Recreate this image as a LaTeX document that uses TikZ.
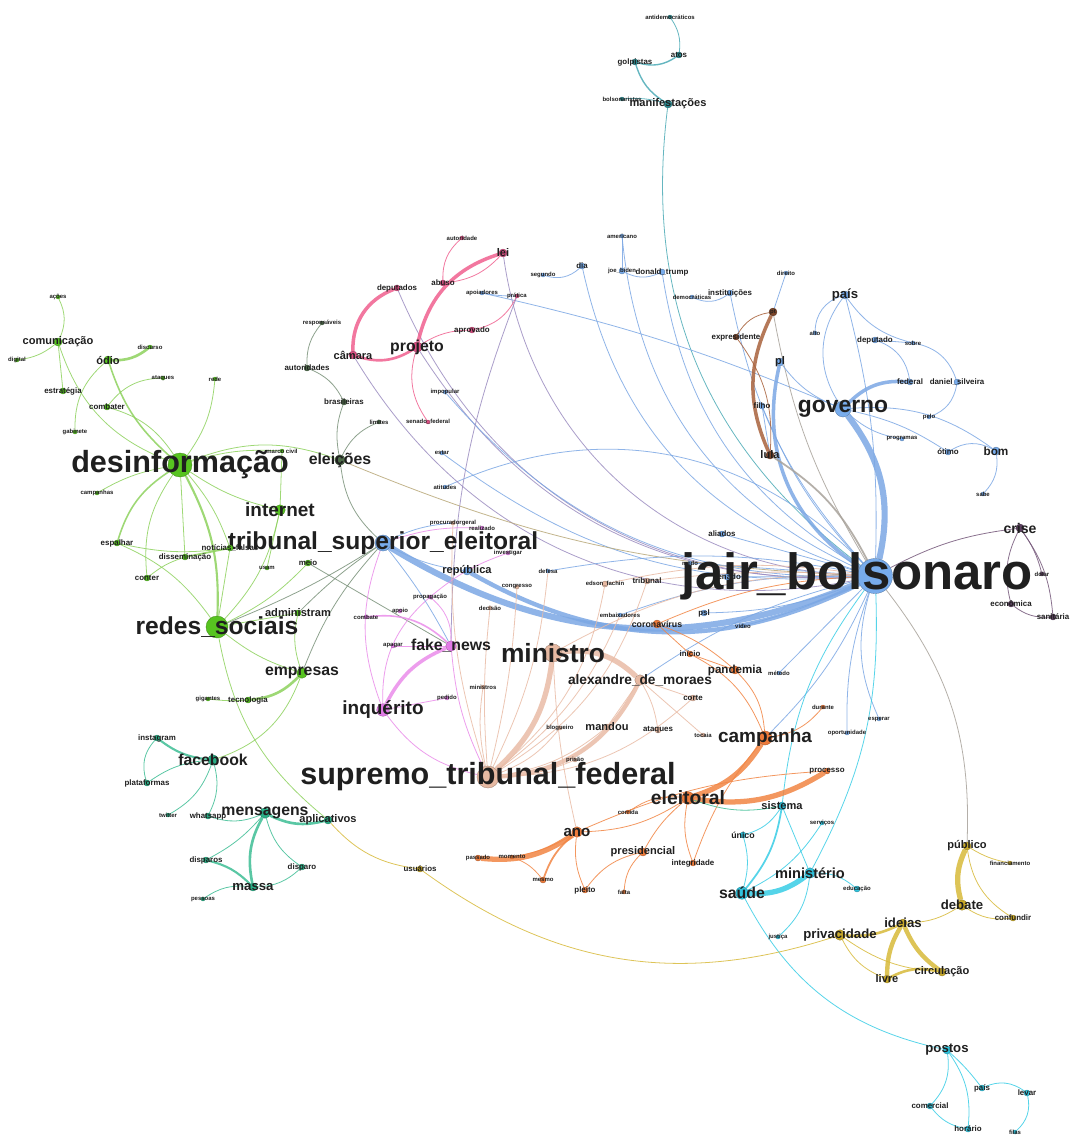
\documentclass[tikz,border=0pt]{standalone}
\usepackage{fontspec}
\setmainfont{Liberation Sans}
\usepackage{tikz}
\pgfdeclarelayer{edges}
\pgfsetlayers{edges,main}

\definecolor{cBlue}{HTML}{78ACEC}
\definecolor{eBlue}{HTML}{7CA8E4}
\definecolor{cGreen}{HTML}{57C320}
\definecolor{eGreen}{HTML}{8ED25E}
\definecolor{cDkg}{HTML}{4D6B49}
\definecolor{eDkg}{HTML}{7A927A}
\definecolor{cPink}{HTML}{D94F82}
\definecolor{ePink}{HTML}{F0608F}
\definecolor{cMag}{HTML}{E27AE6}
\definecolor{eMag}{HTML}{EA8CEA}
\definecolor{cSalm}{HTML}{E6B9A2}
\definecolor{eSalm}{HTML}{E9BCA6}
\definecolor{cOrng}{HTML}{EE7B3A}
\definecolor{eOrng}{HTML}{F28543}
\definecolor{cCyan}{HTML}{2FC3DD}
\definecolor{eCyan}{HTML}{38CDE6}
\definecolor{cGold}{HTML}{C9A928}
\definecolor{eGold}{HTML}{D8BA3A}
\definecolor{cTeal}{HTML}{28AE85}
\definecolor{eTeal}{HTML}{3EBE95}
\definecolor{cBrwn}{HTML}{7B4529}
\definecolor{eBrwn}{HTML}{A9623C}
\definecolor{cPurp}{HTML}{5B405F}
\definecolor{ePurp}{HTML}{75587A}
\definecolor{cTop}{HTML}{2B8C92}
\definecolor{eTop}{HTML}{4BAAB6}
\definecolor{eMix}{HTML}{9B8CC0}
\definecolor{eOlive}{HTML}{B8A878}
\definecolor{eGray}{HTML}{A8A29A}

\begin{document}
\begin{tikzpicture}[
                x=0.02cm, y=-0.02cm,
                nd/.style={circle, inner sep=0pt, fill=#1, draw=#1!70!black, line width=0.2pt},
                n0/.style={minimum size=0.8mm}, n1/.style={minimum size=1.2mm},
                n2/.style={minimum size=1.6mm}, n3/.style={minimum size=2.1mm},
                n4/.style={minimum size=2.5mm}, n5/.style={minimum size=3.2mm},
                n6/.style={minimum size=4.4mm}, n7/.style={minimum size=7mm},
                lab/.style={inner sep=0pt, text=black!88, font=\bfseries\fontsize{#1}{#1}\selectfont},
                t0/.style={lab=3.4}, t1/.style={lab=4.5}, t2/.style={lab=6.3},
                t3/.style={lab=7.5}, t4/.style={lab=9}, t5/.style={lab=10.8},
                t6/.style={lab=14}, t7/.style={lab=17.4}, t8/.style={lab=29},
                lnk/.style={draw=#1, line width=0.45pt, draw opacity=0.85}
            ]
            \useasboundingbox (0,0) rectangle (1073,1136);
            % manifestacoes
            \node[nd=cTop, n0, label={[t0]center:antidemocráticos}] (anti) at (670,17) {};
            \node[nd=cTop, n1, label={[t1]center:atos}] (atos) at (679,55) {};
            \node[nd=cTop, n1, label={[t1]center:golpistas}] (golp) at (635,62) {};
            \node[nd=cTop, n0, label={[t0]center:bolsonaristas}] (bolsta) at (622,99) {};
            \node[nd=cTop, n2, label={[t2]center:manifestações}] (manif) at (668,104) {};
            % bolsonaro
            \node[nd=cBlue, n7, label={[t8, xshift=-3.6mm]center:jair\_bolsonaro}] (jb) at (875,576) {};
            \node[nd=cBlue, n0, label={[t0]center:americano}] (amer) at (622,236) {};
            \node[nd=cBlue, n1, label={[t0]center:joe\_biden}] (biden) at (622,271) {};
            \node[nd=cBlue, n1, label={[t1]center:donald\_trump}] (trump) at (662,272) {};
            \node[nd=cBlue, n1, label={[t1]center:dia}] (dia) at (582,266) {};
            \node[nd=cBlue, n0, label={[t0]center:segundo}] (seg) at (543,275) {};
            \node[nd=cBlue, n0, label={[t0]center:apoiadores}] (apoi) at (482,293) {};
            \node[nd=cBlue, n0, label={[t0]center:democráticas}] (demo) at (692,297) {};
            \node[nd=cBlue, n1, label={[t1]center:instituições}] (inst) at (730,293) {};
            \node[nd=cBlue, n0, label={[t0]center:direito}] (dir) at (786,273) {};
            \node[nd=cBlue, n2, label={[t2]center:pl}] (pl) at (780,362) {};
            \node[nd=cBlue, n1, label={[t1]center:filho}] (filho) at (762,406) {};
            \node[nd=cBlue, n5, label={[lab=13]center:governo}] (gov) at (843,409) {};
            \node[nd=cBlue, n2, label={[t3]center:país}] (pais) at (845,295) {};
            \node[nd=cBlue, n0, label={[t0]center:alto}] (alto) at (815,333) {};
            \node[nd=cBlue, n1, label={[t1]center:deputado}] (dep) at (875,340) {};
            \node[nd=cBlue, n0, label={[t0]center:sobre}] (sobre) at (913,343) {};
            \node[nd=cBlue, n1, label={[t1]center:federal}] (fed) at (910,382) {};
            \node[nd=cBlue, n1, label={[t1]center:daniel\_silveira}] (dan) at (957,382) {};
            \node[nd=cBlue, n0, label={[t0]center:pelo}] (pelo) at (929,417) {};
            \node[nd=cBlue, n0, label={[t0]center:programas}] (prog) at (902,439) {};
            \node[nd=cBlue, n1, label={[t1]center:ótimo}] (otimo) at (948,452) {};
            \node[nd=cBlue, n2, label={[lab=6.7]center:bom}] (bom) at (996,451) {};
            \node[nd=cBlue, n0, label={[t0]center:sabe}] (sabe) at (983,494) {};
            \node[nd=cBlue, n0, label={[t0]center:impopular}] (impop) at (445,392) {};
            \node[nd=cBlue, n0, label={[t0]center:estar}] (estar) at (442,453) {};
            \node[nd=cBlue, n0, label={[t0]center:atitudes}] (atit) at (445,487) {};
            \node[nd=cBlue, n5, label={[t6]center:tribunal\_superior\_eleitoral}] (tse) at (383,543) {};
            \node[nd=cBlue, n2, label={[t2]center:república}] (rep) at (467,571) {};
            \node[nd=cBlue, n0, label={[t0]center:defesa}] (defesa) at (548,571) {};
            \node[nd=cBlue, n1, label={[t1]center:aliados}] (aliad) at (722,534) {};
            \node[nd=cBlue, n0, label={[t0]center:medo}] (medo) at (690,563) {};
            \node[nd=cBlue, n1, label={[t1]center:senado}] (senado) at (727,577) {};
            \node[nd=cBlue, n1, label={[t1]center:psl}] (psl) at (704,613) {};
            \node[nd=cBlue, n0, label={[t0]center:vídeo}] (video) at (743,626) {};
            \node[nd=cBlue, n0, label={[t0]center:embaixadores}] (embx) at (620,615) {};
            \node[nd=cBlue, n0, label={[t0]center:método}] (metodo) at (779,673) {};
            \node[nd=cBlue, n0, label={[t0]center:esperar}] (esperar) at (879,719) {};
            \node[nd=cBlue, n0, label={[t0]center:oportunidade}] (oport) at (847,733) {};
            % lula
            \node[nd=cBrwn, n2, label={[t0]center:pt}] (pt) at (773,312) {};
            \node[nd=cBrwn, n1, label={[t1]center:expresidente}] (expres) at (736,337) {};
            \node[nd=cBrwn, n2, label={[t2]center:lula}] (lula) at (770,455) {};
            % crise
            \node[nd=cPurp, n2, label={[lab=8]center:crise}] (crise) at (1020,528) {};
            \node[nd=cPurp, n0, label={[t0]center:dólar}] (dolar) at (1042,574) {};
            \node[nd=cPurp, n1, label={[t1]center:econômica}] (econ) at (1011,604) {};
            \node[nd=cPurp, n1, label={[t1]center:sanitária}] (sanit) at (1053,617) {};
            % eleicoes
            \node[nd=cDkg, n0, label={[t0]center:responsáveis}] (resp) at (322,323) {};
            \node[nd=cDkg, n1, label={[t1]center:autoridades}] (autor) at (307,368) {};
            \node[nd=cDkg, n1, label={[t1]center:brasileiras}] (bras) at (344,402) {};
            \node[nd=cDkg, n0, label={[t0]center:limites}] (limites) at (379,422) {};
            \node[nd=cDkg, n3, label={[t4]center:eleições}] (elei) at (340,460) {};
            % desinformacao
            \node[nd=cGreen, n0, label={[t0]center:ações}] (acoes) at (58,297) {};
            \node[nd=cGreen, n2, label={[t2]center:comunicação}] (comun) at (58,342) {};
            \node[nd=cGreen, n0, label={[t0]center:digital}] (digital) at (17,360) {};
            \node[nd=cGreen, n2, label={[t2]center:ódio}] (odio) at (108,360) {};
            \node[nd=cGreen, n0, label={[t0]center:discurso}] (disc) at (150,347) {};
            \node[nd=cGreen, n0, label={[t0]center:ataques}] (ataqL) at (163,378) {};
            \node[nd=cGreen, n0, label={[t0]center:rede}] (rede) at (215,379) {};
            \node[nd=cGreen, n1, label={[t1]center:estratégia}] (estrat) at (63,391) {};
            \node[nd=cGreen, n1, label={[t1]center:combater}] (comb) at (107,407) {};
            \node[nd=cGreen, n0, label={[t0]center:gabinete}] (gabin) at (75,432) {};
            \node[nd=cGreen, minimum size=4.8mm, label={[t7]center:desinformação}] (desinf) at (180,465) {};
            \node[nd=cGreen, n0, label={[t0]center:marco civil}] (marco) at (282,451) {};
            \node[nd=cGreen, n0, label={[t0]center:campanhas}] (campS) at (97,493) {};
            \node[nd=cGreen, n3, label={[t5]center:internet}] (internet) at (280,510) {};
            \node[nd=cGreen, n1, label={[t1]center:espalhar}] (espal) at (117,543) {};
            \node[nd=cGreen, n1, label={[t1]center:notícias\_falsas}] (notic) at (230,548) {};
            \node[nd=cGreen, n1, label={[t1]center:disseminação}] (dissem) at (185,557) {};
            \node[nd=cGreen, n1, label={[t1]center:conter}] (conter) at (147,578) {};
            \node[nd=cGreen, n0, label={[t0]center:usam}] (usam) at (267,568) {};
            \node[nd=cGreen, n1, label={[t1]center:meio}] (meio) at (308,563) {};
            \node[nd=cGreen, n6, label={[t6]center:redes\_sociais}] (redes) at (217,627) {};
            \node[nd=cGreen, n1, label={[t2]center:administram}] (admin) at (298,613) {};
            \node[nd=cGreen, n3, label={[t4]center:empresas}] (empr) at (302,673) {};
            \node[nd=cGreen, n1, label={[t1]center:tecnologia}] (tecno) at (248,700) {};
            \node[nd=cGreen, n0, label={[t0]center:gigantes}] (gigant) at (208,699) {};
            % facebook
            \node[nd=cTeal, n1, label={[t1]center:instagram}] (insta) at (157,738) {};
            \node[nd=cTeal, n3, label={[t4]center:facebook}] (face) at (213,760) {};
            \node[nd=cTeal, n1, label={[t1]center:plataformas}] (plataf) at (147,783) {};
            \node[nd=cTeal, n0, label={[t0]center:twitter}] (twit) at (168,815) {};
            \node[nd=cTeal, n1, label={[t1]center:whatsapp}] (whats) at (208,816) {};
            \node[nd=cTeal, n3, label={[t4]center:mensagens}] (mens) at (265,813) {};
            \node[nd=cTeal, n2, label={[t2]center:aplicativos}] (aplic) at (328,820) {};
            \node[nd=cTeal, n1, label={[t1]center:disparos}] (disps) at (206,860) {};
            \node[nd=cTeal, n1, label={[t1]center:disparo}] (disp) at (302,867) {};
            \node[nd=cTeal, n2, label={[lab=7.5]center:massa}] (massa) at (253,887) {};
            \node[nd=cTeal, n0, label={[t0]center:pessoas}] (pessoas) at (203,899) {};
            % projeto
            \node[nd=cPink, n0, label={[t0]center:autoridade}] (autorid) at (462,238) {};
            \node[nd=cPink, n2, label={[t2]center:lei}] (lei) at (503,253) {};
            \node[nd=cPink, n1, label={[t1]center:abuso}] (abuso) at (443,283) {};
            \node[nd=cPink, n1, label={[t1]center:deputados}] (deps) at (397,288) {};
            \node[nd=cPink, n0, label={[t0]center:prática}] (pratica) at (517,296) {};
            \node[nd=cPink, n1, label={[t1]center:aprovado}] (aprov) at (472,330) {};
            \node[nd=cPink, n3, label={[t4]center:projeto}] (proj) at (417,347) {};
            \node[nd=cPink, n2, label={[t2]center:câmara}] (camara) at (353,355) {};
            \node[nd=cPink, n0, label={[t0]center:senado\_federal}] (senfed) at (428,422) {};
            % inquerito
            \node[nd=cSalm, n0, label={[t0]center:procuradorgeral}] (proc) at (453,523) {};
            \node[nd=cMag, n0, label={[t0]center:realizado}] (realiz) at (482,528) {};
            \node[nd=cMag, n0, label={[t0]center:investigar}] (invest) at (508,553) {};
            \node[nd=cMag, n0, label={[t0]center:propagação}] (propag) at (430,597) {};
            \node[nd=cMag, n0, label={[t0]center:apoio}] (apoio) at (400,611) {};
            \node[nd=cMag, n0, label={[t0]center:combate}] (combate) at (366,617) {};
            \node[nd=cMag, n0, label={[t0]center:apagar}] (apagar) at (393,646) {};
            \node[nd=cMag, n3, label={[t4]center:fake\_news}] (fake) at (451,646) {};
            \node[nd=cMag, n4, label={[t5]center:inquérito}] (inq) at (383,710) {};
            \node[nd=cMag, n0, label={[t0]center:pedido}] (pedido) at (447,698) {};
            % supremo
            \node[nd=cSalm, n0, label={[t0]center:congresso}] (congr) at (517,587) {};
            \node[nd=cSalm, n0, label={[t0]center:decisão}] (decisao) at (490,608) {};
            \node[nd=cSalm, n1, label={[t0]center:edson\_fachin}] (fachin) at (605,584) {};
            \node[nd=cSalm, n1, label={[t1]center:tribunal}] (trib) at (647,581) {};
            \node[nd=cSalm, minimum size=3.6mm, label={[lab=15]center:ministro}] (ministro) at (553,653) {};
            \node[nd=cSalm, n3, label={[lab=7.8]center:alexandre\_de\_moraes}] (adm) at (640,680) {};
            \node[nd=cSalm, n0, label={[t0]center:ministros}] (ministros) at (483,687) {};
            \node[nd=cSalm, n1, label={[t1]center:corte}] (corte) at (693,698) {};
            \node[nd=cSalm, n0, label={[t0]center:blogueiro}] (blog) at (560,728) {};
            \node[nd=cSalm, n1, label={[t2]center:mandou}] (mandou) at (607,727) {};
            \node[nd=cSalm, n1, label={[t1]center:ataques}] (ataq) at (658,730) {};
            \node[nd=cSalm, n0, label={[t0]center:tocaia}] (tocaia) at (703,735) {};
            \node[nd=cSalm, n6, label={[t7]center:supremo\_tribunal\_federal}] (stf) at (488,777) {};
            \node[nd=cSalm, n0, label={[t0]center:prisão}] (prisao) at (575,760) {};
            % campanha
            \node[nd=cOrng, n2, label={[lab=5]center:coronavírus}] (coron) at (657,624) {};
            \node[nd=cOrng, n1, label={[t1]center:início}] (inicio) at (690,654) {};
            \node[nd=cOrng, n2, label={[lab=6.6]center:pandemia}] (pand) at (735,670) {};
            \node[nd=cOrng, n0, label={[t0]center:durante}] (durante) at (823,707) {};
            \node[nd=cOrng, minimum size=2.8mm, label={[t5]center:campanha}] (camp) at (765,738) {};
            \node[nd=cOrng, n4, label={[lab=11]center:eleitoral}] (eleitoral) at (688,798) {};
            \node[nd=cOrng, n1, label={[t1]center:processo}] (processo) at (827,771) {};
            \node[nd=cOrng, n0, label={[t0]center:corrida}] (corrida) at (628,812) {};
            \node[nd=cOrng, n3, label={[lab=8.6]center:ano}] (ano) at (577,832) {};
            \node[nd=cOrng, n2, label={[t2]center:presidencial}] (presid) at (643,852) {};
            \node[nd=cOrng, n1, label={[t1]center:integridade}] (integr) at (693,863) {};
            \node[nd=cOrng, n1, label={[t0]center:passado}] (passado) at (478,858) {};
            \node[nd=cOrng, n0, label={[t0]center:momento}] (momento) at (512,857) {};
            \node[nd=cOrng, n1, label={[t0]center:mesmo}] (mesmo) at (543,880) {};
            \node[nd=cOrng, n1, label={[t1]center:pleito}] (pleito) at (585,890) {};
            \node[nd=cOrng, n0, label={[t0]center:falta}] (falta) at (624,892) {};
            % saude
            \node[nd=cCyan, n2, label={[t2]center:sistema}] (sistema) at (782,806) {};
            \node[nd=cCyan, n1, label={[lab=5]center:único}] (unico) at (743,835) {};
            \node[nd=cCyan, n0, label={[t0]center:serviços}] (servicos) at (822,823) {};
            \node[nd=cCyan, n3, label={[lab=8.3]center:ministério}] (minist) at (810,873) {};
            \node[nd=cCyan, n4, label={[t4]center:saúde}] (saude) at (742,893) {};
            \node[nd=cCyan, n1, label={[t0]center:educação}] (educ) at (857,889) {};
            \node[nd=cCyan, n0, label={[t0]center:justiça}] (justica) at (778,937) {};
            \node[nd=cCyan, n2, label={[t3]center:postos}] (postos) at (947,1050) {};
            \node[nd=cCyan, n1, label={[t1]center:comercial}] (comerc) at (930,1106) {};
            \node[nd=cCyan, n1, label={[t1]center:horário}] (horario) at (968,1129) {};
            \node[nd=cCyan, n1, label={[t1]center:país}] (paisB) at (982,1088) {};
            \node[nd=cCyan, n1, label={[t1]center:levar}] (levar) at (1027,1093) {};
            \node[nd=cCyan, n0, label={[t0]center:filas}] (filas) at (1015,1132) {};
            % debate
            \node[nd=cGold, n1, label={[t1]center:usuários}] (usuarios) at (420,869) {};
            \node[nd=cGold, n2, label={[t2]center:público}] (publico) at (967,846) {};
            \node[nd=cGold, n0, label={[t0]center:financiamento}] (financ) at (1010,863) {};
            \node[nd=cGold, n3, label={[t3]center:debate}] (debate) at (962,905) {};
            \node[nd=cGold, n1, label={[t1]center:confundir}] (confund) at (1013,918) {};
            \node[nd=cGold, n2, label={[t3]center:ideias}] (ideias) at (903,923) {};
            \node[nd=cGold, n3, label={[t3]center:privacidade}] (privac) at (840,935) {};
            \node[nd=cGold, n2, label={[t2]center:livre}] (livre) at (887,979) {};
            \node[nd=cGold, n2, label={[t2]center:circulação}] (circ) at (942,972) {};

            \begin{pgfonlayer}{edges}
            \fill[white] (0,0) rectangle (1073,1136);
            % manifestacoes
            \draw[lnk=eTop] (anti) to[bend left=20] (atos);
            \draw[lnk=eTop, line width=0.8pt] (atos) to[bend left=25] (golp);
            \draw[lnk=eTop, line width=0.8pt] (golp) to[bend right=20] (manif);
            \draw[lnk=eTop] (bolsta) to[bend left=10] (manif);
            \draw[lnk=eTop] (manif) to[bend right=30] (jb);
            % bolsonaro
            \draw[lnk=eBlue] (amer) to[bend right=30] (jb);
            \draw[lnk=eBlue] (amer) -- (biden);
            \draw[lnk=eBlue] (biden) to[bend right=25] (trump);
            \draw[lnk=eBlue] (trump) to[bend right=25] (jb);
            \draw[lnk=eBlue] (dia) to[bend right=30] (jb);
            \draw[lnk=eBlue] (seg) to[bend right=30] (dia);
            \draw[lnk=eBlue] (apoi) to[bend left=5] (gov);
            \draw[lnk=eBlue] (demo) to[bend right=30] (inst);
            \draw[lnk=eBlue] (inst) to[bend right=15] (jb);
            \draw[lnk=eBlue] (dir) -- (pt);
            \draw[lnk=eGray] (pt) to[bend right=10] (jb);
            \draw[lnk=eBlue, line width=2pt] (pl) to[bend right=35] (jb);
            \draw[lnk=eBlue] (pl) to[bend right=15] (gov);
            \draw[lnk=eBlue] (filho) -- (lula);
            \draw[lnk=eBlue] (filho) to[bend right=10] (jb);
            \draw[lnk=eBlue] (pais) to[bend right=35] (gov);
            \draw[lnk=eBlue] (pais) to[bend left=8] (jb);
            \draw[lnk=eBlue] (pais) to[bend right=35] (alto);
            \draw[lnk=eBlue] (pais) to[bend right=20] (sobre);
            \draw[lnk=eBlue] (dep) to[bend left=30] (fed);
            \draw[lnk=eBlue] (dep) -- (sobre);
            \draw[lnk=eBlue] (sobre) to[bend left=30] (dan);
            \draw[lnk=eBlue] (dan) to[bend left=30] (pelo);
            \draw[lnk=eBlue, line width=2pt] (gov) to[bend left=25] (fed);
            \draw[lnk=eBlue] (gov) to[bend left=20] (bom);
            \draw[lnk=eBlue] (gov) to[bend left=10] (otimo);
            \draw[lnk=eBlue] (gov) to[bend right=15] (prog);
            \draw[lnk=eBlue] (otimo) to[bend left=30] (bom);
            \draw[lnk=eBlue] (bom) to[bend left=25] (sabe);
            \draw[lnk=eBlue, line width=3.5pt] (gov) to[bend left=25] (jb);
            \draw[lnk=eBlue, line width=3.5pt] (tse) to[bend right=27] (jb);
            \draw[lnk=eBlue, line width=2.5pt] (rep) to[bend right=28] (jb);
            \draw[lnk=eBlue] (atit) to[bend left=35] (jb);
            \draw[lnk=eMix] (lei) to[bend right=40] (jb);
            \draw[lnk=eMix] (camara) to[bend right=35] (jb);
            \draw[lnk=eMix] (deps) to[bend right=35] (jb);
            \draw[lnk=eMix] (proj) to[bend right=30] (jb);
            \draw[lnk=eBlue] (impop) to[bend right=25] (jb);
            \draw[lnk=eBlue] (estar) to[bend right=20] (jb);
            \draw[lnk=eOlive] (elei) to[bend right=10] (jb);
            \draw[lnk=eBlue] (aliad) -- (jb);
            \draw[lnk=eBlue] (medo) -- (jb);
            \draw[lnk=eBlue] (senado) -- (jb);
            \draw[lnk=eBlue] (psl) to[bend right=10] (jb);
            \draw[lnk=eBlue] (video) to[bend right=5] (jb);
            \draw[lnk=eBlue] (embx) to[bend left=10] (jb);
            \draw[lnk=eBlue] (metodo) -- (jb);
            \draw[lnk=eBlue] (jb) to[bend right=20] (esperar);
            \draw[lnk=eBlue] (jb) to[bend right=10] (oport);
            \draw[lnk=eSalm] (ministro) to[bend left=15] (jb);
            \draw[lnk=eBlue] (adm) to[bend left=10] (jb);
            \draw[lnk=eBlue] (camp) to[bend right=10] (jb);
            \draw[lnk=eCyan] (jb) to[bend right=15] (sistema);
            \draw[lnk=eCyan] (jb) to[bend left=15] (minist);
            \draw[lnk=eGray] (jb) to[bend left=20] (publico);
            \draw[lnk=ePurp] (jb) to[bend left=10] (crise);
            \draw[lnk=eOrng] (coron) to[bend left=10] (jb);
            \draw[lnk=eSalm] (fachin) to[bend left=10] (jb);
            \draw[lnk=eSalm] (trib) to[bend left=5] (jb);
            \draw[lnk=eBlue] (defesa) to[bend left=10] (jb);
            % lula
            \draw[lnk=eBrwn, line width=2pt] (pt) to[bend right=25] (lula);
            \draw[lnk=eBrwn] (expres) to[bend left=20] (lula);
            \draw[lnk=eBrwn] (pt) to[bend right=25] (expres);
            \draw[lnk=eGray, line width=1pt] (lula) to[bend left=15] (jb);
            % crise
            \draw[lnk=ePurp] (crise) to[bend right=20] (econ);
            \draw[lnk=ePurp] (crise) to[bend left=15] (sanit);
            \draw[lnk=ePurp] (crise) to[bend left=10] (dolar);
            \draw[lnk=ePurp] (econ) to[bend right=20] (sanit);
            % eleicoes
            \draw[lnk=eDkg] (elei) to[bend left=15] (bras);
            \draw[lnk=eDkg] (elei) to[bend left=20] (limites);
            \draw[lnk=eDkg] (bras) to[bend right=20] (autor);
            \draw[lnk=eDkg] (autor) to[bend left=20] (resp);
            \draw[lnk=eDkg] (elei) to[bend right=20] (tse);
            % desinformacao
            \draw[lnk=eGreen, line width=0.9pt] (odio) to[bend right=15] (desinf);
            \draw[lnk=eGreen] (comb) to[bend left=20] (desinf);
            \draw[lnk=eGreen] (ataqL) to[bend right=25] (comb);
            \draw[lnk=eGreen] (rede) to[bend left=15] (desinf);
            \draw[lnk=eGreen] (comun) to[bend right=25] (acoes);
            \draw[lnk=eGreen] (comun) to[bend left=15] (digital);
            \draw[lnk=eGreen] (comun) -- (estrat);
            \draw[lnk=eGreen] (comun) to[bend right=25] (desinf);
            \draw[lnk=eGreen, line width=1.5pt] (odio) to[bend right=20] (disc);
            \draw[lnk=eGreen] (odio) to[bend right=25] (gabin);
            \draw[lnk=eGreen] (campS) to[bend left=10] (desinf);
            \draw[lnk=eGreen, line width=0.9pt] (desinf) to[bend right=20] (espal);
            \draw[lnk=eGreen] (desinf) to[bend right=20] (conter);
            \draw[lnk=eGreen] (desinf) -- (dissem);
            \draw[lnk=eGreen] (desinf) to[bend left=10] (notic);
            \draw[lnk=eGreen, line width=1.2pt] (desinf) to[bend left=15] (redes);
            \draw[lnk=eGreen] (desinf) to[bend right=10] (internet);
            \draw[lnk=eGreen] (desinf) to[bend left=10] (marco);
            \draw[lnk=eGreen] (desinf) to[bend left=20] (elei);
            \draw[lnk=eGreen] (internet) to[bend left=15] (redes);
            \draw[lnk=eGreen] (internet) -- (usam);
            \draw[lnk=eGreen] (internet) -- (marco);
            \draw[lnk=eGreen] (espal) to[bend right=10] (notic);
            \draw[lnk=eGreen] (dissem) to[bend right=10] (conter);
            \draw[lnk=eGreen, line width=1pt] (dissem) -- (notic);
            \draw[lnk=eGreen] (redes) -- (notic);
            \draw[lnk=eGreen] (espal) to[bend left=15] (redes);
            \draw[lnk=eGreen] (redes) to[bend right=10] (meio);
            \draw[lnk=eGreen] (redes) -- (admin);
            \draw[lnk=eGreen] (redes) to[bend right=10] (empr);
            \draw[lnk=eGreen] (redes) to[bend right=20] (aplic);
            \draw[lnk=eGreen] (face) to[bend right=25] (empr);
            \draw[lnk=eGreen, line width=1.5pt] (empr) to[bend left=20] (tecno);
            \draw[lnk=eGreen] (tecno) to[bend left=5] (gigant);
            \draw[lnk=eGreen] (empr) to[bend left=15] (admin);
            \draw[lnk=eDkg] (tse) to[bend left=5] (redes);
            \draw[lnk=eDkg] (tse) to[bend right=5] (admin);
            \draw[lnk=eDkg] (tse) to[bend right=10] (empr);
            \draw[lnk=eDkg] (meio) -- (fake);
            % facebook
            \draw[lnk=eTeal, line width=1.2pt] (face) to[bend left=15] (insta);
            \draw[lnk=eTeal] (insta) to[bend right=30] (plataf);
            \draw[lnk=eTeal] (face) to[bend right=15] (plataf);
            \draw[lnk=eTeal] (face) to[bend left=20] (twit);
            \draw[lnk=eTeal] (face) to[bend left=20] (whats);
            \draw[lnk=eTeal] (whats) to[bend right=20] (mens);
            \draw[lnk=eTeal, line width=1.5pt] (mens) to[bend right=20] (aplic);
            \draw[lnk=eTeal, line width=1.5pt] (mens) to[bend right=20] (massa);
            \draw[lnk=eTeal] (mens) to[bend left=10] (disps);
            \draw[lnk=eTeal] (mens) to[bend right=20] (disp);
            \draw[lnk=eTeal, line width=1.2pt] (massa) to[bend right=15] (disps);
            \draw[lnk=eTeal] (massa) to[bend right=20] (disp);
            \draw[lnk=eTeal] (massa) to[bend right=20] (pessoas);
            \draw[lnk=eGold] (aplic) to[bend right=20] (usuarios);
            % projeto
            \draw[lnk=ePink, line width=2pt] (camara) to[bend left=35] (deps);
            \draw[lnk=ePink, line width=1.5pt] (camara) to[bend right=25] (proj);
            \draw[lnk=ePink, line width=2pt] (proj) to[bend left=30] (lei);
            \draw[lnk=ePink] (abuso) to[bend right=20] (lei);
            \draw[lnk=ePink] (autorid) to[bend right=25] (abuso);
            \draw[lnk=ePink] (pratica) to[bend left=25] (aprov);
            \draw[lnk=ePink] (aprov) to[bend right=15] (proj);
            \draw[lnk=ePink] (proj) to[bend right=25] (senfed);
            \draw[lnk=eBlue] (apoi) to[bend right=5] (pratica);
            \draw[lnk=eMix] (pratica) to[bend right=10] (fake);
            % inquerito
            \draw[lnk=eMag, line width=2pt] (fake) to[bend right=20] (inq);
            \draw[lnk=eMag] (inq) to[bend left=20] (tse);
            \draw[lnk=eMag] (inq) to[bend left=25] (propag);
            \draw[lnk=eMag, line width=0.9pt] (combate) to[bend left=25] (fake);
            \draw[lnk=eMag] (apagar) -- (fake);
            \draw[lnk=eMag] (propag) to[bend left=25] (fake);
            \draw[lnk=eBlue] (tse) to[bend left=5] (fake);
            \draw[lnk=eMag] (invest) to[bend right=10] (propag);
            \draw[lnk=eMag] (inq) -- (pedido);
            \draw[lnk=eMag] (inq) to[bend right=20] (stf);
            \draw[lnk=eMag] (fake) to[bend right=10] (stf);
            \draw[lnk=eBlue] (tse) to[bend left=10] (proc);
            \draw[lnk=eBlue] (tse) to[bend right=10] (rep);
            \draw[lnk=eMag] (tse) to[bend left=10] (realiz);
            % supremo
            \draw[lnk=eSalm, line width=3pt] (stf) to[bend right=20] (ministro);
            \draw[lnk=eSalm, line width=2.5pt] (stf) to[bend right=30] (adm);
            \draw[lnk=eSalm, line width=3pt] (ministro) to[bend left=25] (adm);
            \draw[lnk=eSalm] (stf) to[bend left=5] (decisao);
            \draw[lnk=eSalm] (stf) to[bend right=5] (congr);
            \draw[lnk=eSalm] (stf) to[bend right=10] (defesa);
            \draw[lnk=eSalm] (stf) to[bend right=20] (fachin);
            \draw[lnk=eSalm] (stf) to[bend right=20] (trib);
            \draw[lnk=eSalm] (stf) to[bend left=10] (proc);
            \draw[lnk=eSalm] (stf) to[bend left=10] (ministros);
            \draw[lnk=eSalm] (stf) to[bend right=15] (blog);
            \draw[lnk=eSalm] (stf) to[bend right=15] (mandou);
            \draw[lnk=eSalm] (stf) to[bend right=10] (prisao);
            \draw[lnk=eSalm] (stf) to[bend right=20] (corte);
            \draw[lnk=eSalm] (stf) to[bend right=15] (embx);
            \draw[lnk=eSalm] (adm) -- (mandou);
            \draw[lnk=eSalm] (adm) -- (corte);
            \draw[lnk=eSalm] (adm) to[bend left=10] (ataq);
            \draw[lnk=eSalm] (adm) -- (tocaia);
            % campanha
            \draw[lnk=eOrng, line width=3pt] (camp) to[bend left=20] (eleitoral);
            \draw[lnk=eOrng, line width=3pt] (eleitoral) to[bend right=20] (processo);
            \draw[lnk=eOrng, line width=3pt] (ano) to[bend left=20] (passado);
            \draw[lnk=eOrng] (ano) to[bend left=10] (momento);
            \draw[lnk=eOrng, line width=1pt] (ano) to[bend right=15] (mesmo);
            \draw[lnk=eOrng] (momento) to[bend left=15] (mesmo);
            \draw[lnk=eOrng] (ano) to[bend right=15] (pleito);
            \draw[lnk=eOrng] (ano) to[bend right=15] (eleitoral);
            \draw[lnk=eSalm] (ano) to[bend left=5] (ministro);
            \draw[lnk=eOrng] (corrida) to[bend left=20] (eleitoral);
            \draw[lnk=eOrng] (presid) to[bend right=20] (pleito);
            \draw[lnk=eOrng] (presid) to[bend right=20] (falta);
            \draw[lnk=eOrng] (presid) to[bend left=10] (eleitoral);
            \draw[lnk=eOrng] (eleitoral) to[bend right=15] (integr);
            \draw[lnk=eOrng] (camp) to[bend right=10] (integr);
            \draw[lnk=eTeal] (eleitoral) to[bend right=15] (sistema);
            \draw[lnk=eOrng] (processo) to[bend right=10] (ano);
            \draw[lnk=eOrng] (camp) to[bend right=20] (durante);
            \draw[lnk=eOrng] (camp) to[bend right=20] (pand);
            \draw[lnk=eOrng] (inicio) to[bend left=20] (camp);
            \draw[lnk=eOrng] (inicio) -- (pand);
            \draw[lnk=eOrng] (coron) -- (inicio);
            \draw[lnk=eOrng] (coron) to[bend left=10] (pand);
            % saude
            \draw[lnk=eCyan, line width=3pt] (saude) to[bend right=20] (minist);
            \draw[lnk=eCyan, line width=1pt] (saude) to[bend right=15] (sistema);
            \draw[lnk=eCyan] (saude) to[bend right=15] (unico);
            \draw[lnk=eCyan] (unico) to[bend right=20] (sistema);
            \draw[lnk=eCyan] (saude) to[bend right=15] (servicos);
            \draw[lnk=eCyan] (minist) to[bend left=20] (justica);
            \draw[lnk=eCyan] (minist) to[bend left=20] (educ);
            \draw[lnk=eCyan] (minist) -- (sistema);
            \draw[lnk=eCyan] (saude) to[bend right=25] (postos);
            \draw[lnk=eCyan] (postos) to[bend left=25] (comerc);
            \draw[lnk=eCyan] (postos) to[bend left=20] (horario);
            \draw[lnk=eCyan] (postos) to[bend left=5] (paisB);
            \draw[lnk=eCyan] (comerc) to[bend right=20] (horario);
            \draw[lnk=eCyan] (paisB) to[bend left=30] (levar);
            \draw[lnk=eCyan] (levar) to[bend left=30] (filas);
            % debate
            \draw[lnk=eGold, line width=3pt] (publico) to[bend right=20] (debate);
            \draw[lnk=eGold] (publico) to[bend right=10] (financ);
            \draw[lnk=eGold] (publico) to[bend right=25] (confund);
            \draw[lnk=eGold] (debate) to[bend right=20] (confund);
            \draw[lnk=eGold] (debate) to[bend left=15] (ideias);
            \draw[lnk=eGold, line width=1.5pt] (ideias) to[bend left=15] (privac);
            \draw[lnk=eGold, line width=2.5pt] (ideias) to[bend right=15] (livre);
            \draw[lnk=eGold, line width=2.5pt] (ideias) to[bend right=15] (circ);
            \draw[lnk=eGold, line width=1.5pt] (livre) to[bend left=20] (circ);
            \draw[lnk=eGold] (privac) to[bend right=20] (livre);
            \draw[lnk=eGold] (privac) to[bend right=15] (circ);
            \draw[lnk=eGold] (usuarios) to[bend right=27] (privac);
            \end{pgfonlayer}
        \end{tikzpicture}
\end{document}
